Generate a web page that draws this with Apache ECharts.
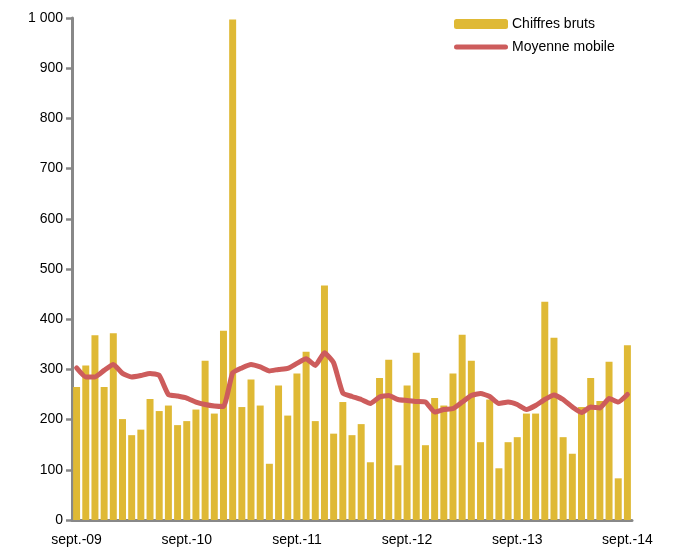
<!DOCTYPE html>
<html>
<head>
<meta charset="utf-8">
<script src="https://cdn.jsdelivr.net/npm/echarts@6/dist/echarts.min.js"></script>
<style>
  html, body { margin: 0; padding: 0; background: #fff; }
  #main { width: 674px; height: 550px; }
</style>
</head>
<body>
<div id="main"></div>
<script>
// mois de sept.-09 a sept.-14
var moisNoms = ['janv.', 'févr.', 'mars', 'avr.', 'mai', 'juin', 'juil.', 'août', 'sept.', 'oct.', 'nov.', 'déc.'];
var categories = [];
for (var k = 0; k < 61; k++) {
    var m = (8 + k) % 12;
    var a = 9 + Math.floor((8 + k) / 12);
    categories.push(moisNoms[m] + '-' + (a < 10 ? '0' + a : a));
}

// Chiffres bruts
var chiffresBruts = [
    265, 308, 368, 265, 372, 201, 169, 180, 241, 217,
    228, 189, 197, 220, 317, 212, 377, 997, 225, 280,
    228, 112, 268, 208, 292, 335, 197, 467, 172, 235,
    169, 191, 115, 283, 319, 109, 268, 333, 149, 243,
    228, 292, 369, 317, 155, 240, 103, 155, 165, 212,
    212, 435, 363, 165, 132, 225, 283, 237, 315, 83,
    348
];

// Moyenne mobile
var moyenneMobile = [
    303, 285, 285, 298, 310, 292, 285, 288, 292, 288,
    250, 247, 243, 235, 230, 227, 226, 293, 303, 310,
    305, 297, 300, 302, 312, 321, 308, 333, 313, 253,
    246, 240, 232, 245, 248, 240, 238, 236, 235, 215,
    220, 222, 235, 248, 252, 246, 232, 235, 230, 220,
    228, 240, 249, 240, 225, 214, 225, 223, 242, 235,
    250
];

var yMin = 0, yMax = 1000, yPas = 100;

var gris = '#888888';
var jaune = '#DFB935';
var rouge = '#CD5C5C';

var myChart = echarts.init(document.getElementById('main'));
var option = {
    animation: false,
    textStyle: { fontFamily: 'Liberation Sans, Arial, sans-serif' },
    grid: { left: 72, right: 42, top: 18, bottom: 30, containLabel: false },
    legend: {
        orient: 'vertical',
        left: 449,
        top: 12,
        itemWidth: 54,
        itemHeight: 10,
        itemGap: 9,
        symbolKeepAspect: true,
        textStyle: { fontSize: 14, color: '#000', padding: [0, 0, 0, -1] },
        data: [
            { name: 'Chiffres bruts', icon: 'roundRect' },
            { name: 'Moyenne mobile', icon: 'path://M2.5,0 L51.5,0 A2.5,2.5 0 0 1 51.5,5 L2.5,5 A2.5,2.5 0 0 1 2.5,0 Z' }
        ]
    },
    xAxis: {
        type: 'category',
        data: categories,
        boundaryGap: true,
        axisLine: { lineStyle: { color: gris, width: 3 } },
        axisTick: { interval: 11, length: 5, lineStyle: { color: gris, width: 2.5 } },
        axisLabel: { interval: 11, color: '#000', fontSize: 14, margin: 13 }
    },
    yAxis: {
        type: 'value',
        min: yMin,
        max: yMax,
        interval: yPas,
        splitLine: { show: false },
        axisLine: { show: true, lineStyle: { color: gris, width: 3 } },
        axisTick: { show: true, length: 6, lineStyle: { color: gris, width: 2.5 } },
        axisLabel: {
            color: '#000',
            fontSize: 14,
            margin: 9,
            formatter: function (v) {
                return String(v).replace(/\B(?=(\d{3})+(?!\d))/g, ' ');
            }
        }
    },
    series: [
        {
            name: 'Chiffres bruts',
            type: 'bar',
            data: chiffresBruts,
            barCategoryGap: '24%',
            itemStyle: { color: jaune }
        },
        {
            name: 'Moyenne mobile',
            type: 'line',
            data: moyenneMobile,
            symbol: 'none',
            smooth: 0.15,
            lineStyle: { color: rouge, width: 5, join: 'round', cap: 'round' },
            itemStyle: { color: rouge }
        }
    ]
};
myChart.setOption(option);
</script>
</body>
</html>
